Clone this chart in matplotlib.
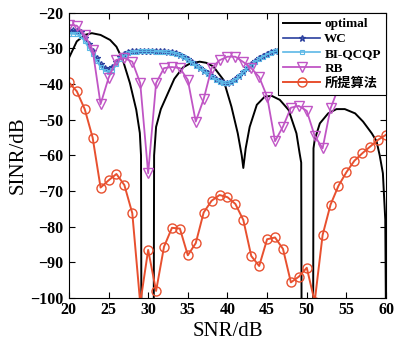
import matplotlib
matplotlib.use('Agg')
import matplotlib.pyplot as plt
import numpy as np

plt.rcParams['font.family'] = ['Liberation Serif', 'Noto Sans CJK SC']

# optimal 波束方向图（读图得到的点）
opt_x = [20, 21, 22, 22.9, 24, 25.2, 26, 26.8, 27.7, 28.5, 28.95, 29.1, 29.15,
         30.7, 30.75, 31, 31.6, 32.3, 33.3, 34.4, 35.3, 36.5, 37.3, 38.2, 39.5,
         40.5, 41.3, 41.8, 42, 42.3, 42.8, 43.7, 44.7, 45.6, 46.6, 47.7, 48.7,
         49.1, 49.3, 49.35, 50.8, 50.85, 51, 51.65, 52.7, 53.75, 54.8, 56.1,
         57.1, 58.2, 58.8, 59.2, 59.6, 59.9, 60]
opt_y = [-32.7, -28, -26.2, -25.7, -26.2, -27.6, -29.5, -33.2, -39.7, -47.2,
         -53.7, -60, -110,
         -110, -60, -52, -47, -43.5, -38.5, -35.3, -34.2, -33.7, -34, -35, -38.8,
         -46.3, -53.8, -60, -63.5, -58, -52, -45.8, -43.5, -43.3, -44.4, -47.2,
         -53.8, -59.4, -62, -110, -110, -58, -55.6, -51, -48.2, -47, -47, -48.2,
         -50.5, -53.8, -56, -60, -65, -78, -110]

# WC / BI-QCQP，步长 0.5 dB
snr_half = np.arange(20, 60.5, 0.5)
wc = [-24.8, -24.9, -25.0, -25.5, -27.0, -28.8, -30.6, -32.6, -34.3, -35.4,
      -35.9, -35.2, -33.8, -32.5, -31.6, -31.1, -30.8, -30.7, -30.6, -30.6,
      -30.6, -30.6, -30.7, -30.7, -30.8, -30.9, -31.0, -31.3, -31.7, -32.3,
      -33.0, -33.8, -34.6, -35.4, -36.2, -37.0, -37.8, -38.5, -39.1, -39.5,
      -39.6, -39.3, -38.6, -37.6, -36.5, -35.4, -34.4, -33.5, -32.8, -32.1,
      -31.5, -31.0, -30.6, -30.3, -30.1, -29.9, -29.8, -29.8, -29.8, -29.9,
      -30.0, -30.2, -30.4, -30.6, -30.9, -31.2, -31.5, -31.8, -32.1, -32.4,
      -32.7, -33.0, -33.3, -33.6, -33.9, -34.2, -34.5, -34.8, -35.0, -35.4,
      -36.3]
bi = [-25.8, -25.9, -26.0, -26.6, -28.0, -29.8, -31.6, -33.5, -35.2, -36.3,
      -36.6, -35.9, -34.4, -33.0, -31.9, -31.3, -31.0, -30.9, -30.8, -30.8,
      -30.8, -30.8, -30.9, -30.9, -31.0, -31.1, -31.2, -31.5, -31.9, -32.5,
      -33.2, -34.0, -34.8, -35.6, -36.4, -37.2, -38.0, -38.7, -39.3, -39.7,
      -39.8, -39.5, -38.8, -37.8, -36.7, -35.6, -34.6, -33.7, -33.0, -32.3,
      -31.7, -31.2, -30.8, -30.5, -30.3, -30.1, -30.0, -30.0, -30.0, -30.1,
      -30.2, -30.4, -30.6, -30.8, -31.1, -31.4, -31.7, -32.0, -32.3, -32.6,
      -32.9, -33.2, -33.5, -33.8, -34.1, -34.4, -34.7, -35.0, -35.2, -35.5,
      -35.8]

# RB 与 所提算法，步长 1 dB
snr = np.arange(20, 61, 1)
rb = [-23.4, -23.6, -26.2, -30.4, -45.6, -38.3, -33.2, -32.7, -33.7, -39.7,
      -65.0, -39.7, -35.5, -35.2, -35.5, -38.8, -50.5, -44.2, -35.5, -33.3,
      -32.3, -32.3, -33.8, -35.5, -38.0, -43.5, -56.0, -51.9, -46.6, -46.1,
      -47.5, -54.5, -58.0, -46.8, -41.0, -37.0, -35.0, -34.5, -35.0, -36.5,
      -38.3]
prop = [-39.5, -42.0, -47.0, -55.0, -69.0, -67.0, -65.2, -68.3, -76.2, -101.5,
        -86.5, -98.0, -85.6, -80.3, -80.5, -88.0, -84.6, -76.0, -72.7, -71.1,
        -71.7, -73.6, -78.1, -88.2, -91.0, -83.5, -83.0, -86.2, -95.6, -94.0,
        -91.5, -101.0, -82.3, -73.8, -68.5, -64.7, -61.5, -59.4, -57.5, -55.6,
        -54.2]

fig = plt.figure(figsize=(3.98, 3.47), dpi=100)
ax = fig.add_axes([0.173, 0.141, 0.797, 0.822])

ax.plot(opt_x, opt_y, color='black', lw=1.4, label='optimal')
ax.plot(snr_half, wc, color='#2a3f9e', lw=1.2, marker='*', ms=5,
        mfc='none', mew=0.9, label='WC')
ax.plot(snr_half, bi, color='#5cb8e6', lw=1.2, marker='s', ms=3.5,
        mfc='none', mew=0.8, label='BI-QCQP')
ax.plot(snr, rb, color='#c055c5', lw=1.3, marker='v', ms=6.5,
        mfc='none', mew=1.0, label='RB')
ax.plot(snr, prop, color='#e8502f', lw=1.4, marker='o', ms=6.5,
        mfc='none', mew=1.0, label='所提算法')

ax.set_xlim(20, 60)
ax.set_ylim(-100, -20)
ax.set_xticks(range(20, 61, 5))
ax.set_yticks(range(-100, -19, 10))
ax.tick_params(direction='in', top=True, right=True, length=4, width=0.8,
               labelsize=11.5)
ax.tick_params(axis='x', pad=3)
ax.tick_params(axis='y', pad=4)
for lab in ax.get_xticklabels() + ax.get_yticklabels():
    lab.set_fontweight('bold')
ax.set_xlabel('SNR/dB', fontsize=15, labelpad=3)
ax.set_ylabel('SINR/dB', fontsize=15, labelpad=2)

leg = ax.legend(loc='upper right', borderaxespad=0,
                prop={'weight': 'bold', 'size': 9.5,
                      'family': ['Liberation Serif', 'Noto Sans CJK SC']},
                fancybox=False, framealpha=1, edgecolor='black',
                handlelength=2.8, handletextpad=0.3, labelspacing=0.2,
                borderpad=0.4)
leg.get_frame().set_linewidth(0.8)

fig.savefig('out.png', dpi=100)
